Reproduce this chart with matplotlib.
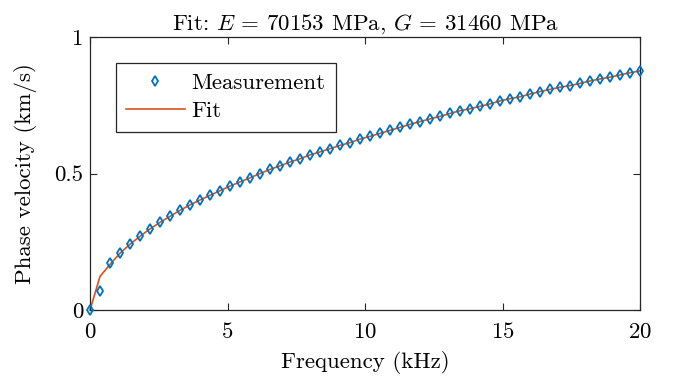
import numpy as np
import matplotlib
matplotlib.use('Agg')
import matplotlib.pyplot as plt

plt.rcParams['font.family'] = 'serif'
plt.rcParams['font.serif'] = ['cmr10']
plt.rcParams['mathtext.fontset'] = 'cm'
plt.rcParams['axes.formatter.use_mathtext'] = True

# 频率 0~20 kHz，56 个测点
freq = np.linspace(0, 20, 56)
meas = [0.000, 0.070, 0.172, 0.210, 0.242, 0.270, 0.297, 0.321, 0.343, 0.365,
        0.385, 0.403, 0.420, 0.437, 0.454, 0.469, 0.484, 0.500, 0.515, 0.528,
        0.542, 0.554, 0.568, 0.579, 0.591, 0.603, 0.613, 0.626, 0.636, 0.647,
        0.658, 0.669, 0.680, 0.690, 0.700, 0.709, 0.720, 0.730, 0.737, 0.746,
        0.755, 0.766, 0.774, 0.781, 0.791, 0.800, 0.808, 0.816, 0.822, 0.830,
        0.839, 0.846, 0.853, 0.861, 0.869, 0.876]
fit = [0.000, 0.123, 0.167, 0.208, 0.241, 0.270, 0.297, 0.321, 0.343, 0.365,
       0.385, 0.403, 0.420, 0.437, 0.454, 0.469, 0.484, 0.500, 0.515, 0.528,
       0.542, 0.554, 0.568, 0.579, 0.591, 0.603, 0.613, 0.626, 0.636, 0.647,
       0.658, 0.669, 0.680, 0.690, 0.700, 0.709, 0.720, 0.730, 0.737, 0.746,
       0.755, 0.766, 0.774, 0.781, 0.791, 0.800, 0.808, 0.816, 0.822, 0.830,
       0.839, 0.846, 0.853, 0.861, 0.869, 0.876]
E_fit, G_fit = 70153, 31460
FS = 16.5

fig = plt.figure(figsize=(6.75, 3.85), dpi=100)
ax = fig.add_axes([90 / 675, 1 - 310 / 385, 550 / 675, 273 / 385])

ax.plot(freq, meas, ls='none', marker='d', ms=5.5, mfc='none', mec='#0072BD',
        mew=1.3, label='Measurement', clip_on=False, zorder=3)
ax.plot(freq, fit, color='#D95319', lw=1.2, label='Fit', clip_on=False, zorder=2)

ax.set_xlim(0, 20); ax.set_ylim(0, 1)
ax.set_xticks([0, 5, 10, 15, 20])
ax.set_yticks([0, 0.5, 1])
ax.set_yticklabels(['0', '0.5', '1'])
ax.tick_params(direction='in', top=True, right=True, length=5, width=0.8,
               colors='0.15', labelcolor='black', labelsize=FS, pad=5)
ax.tick_params(axis='x', pad=9)
for s in ax.spines.values():
    s.set_color('0.15'); s.set_linewidth(0.9)

ax.set_xlabel('Frequency (kHz)', fontsize=FS, labelpad=6)
ax.set_ylabel('Phase velocity (km/s)', fontsize=FS, labelpad=12)
ax.set_title(f'Fit: $E$ = {E_fit} MPa, $G$ = {G_fit} MPa', fontsize=FS, pad=5)

leg = ax.legend(loc='upper left', bbox_to_anchor=(0.047, 0.905), borderaxespad=0,
                fancybox=False, edgecolor='0.15', framealpha=1, fontsize=FS,
                handlelength=2.55, handletextpad=0.3, borderpad=0.45, labelspacing=0.35)
leg.get_frame().set_linewidth(0.9)

fig.savefig('out.png', dpi=100)
